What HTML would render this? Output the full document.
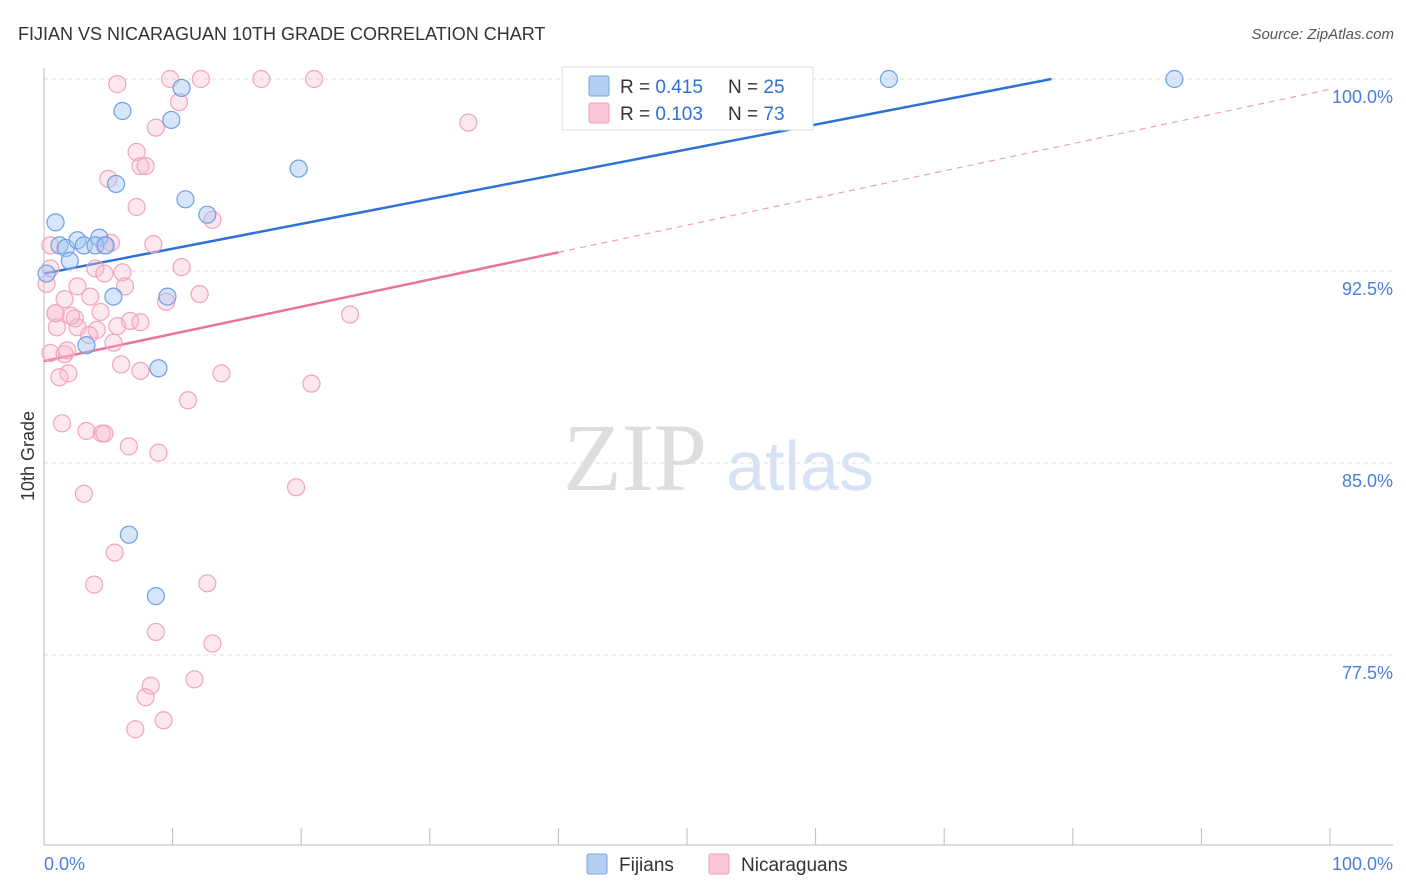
<!DOCTYPE html>
<html><head><meta charset="utf-8">
<style>
body{margin:0;background:#fff;font-family:"Liberation Sans",sans-serif;}
svg{display:block}
</style></head>
<body>
<svg id="chart" width="1406" height="892" viewBox="0 0 1406 892">
<text x="18" y="40" font-size="18" fill="#333">FIJIAN VS NICARAGUAN 10TH GRADE CORRELATION CHART</text>
<text x="1394" y="39" font-size="15" fill="#555" font-style="italic" text-anchor="end">Source: ZipAtlas.com</text>
<text x="34" y="456" font-size="18" fill="#333" text-anchor="middle" transform="rotate(-90 34 456)">10th Grade</text>
<g>
<text x="635" y="490" font-size="96" fill="#ddd" text-anchor="middle" font-family="Liberation Serif,serif">ZIP</text>
<text x="800" y="490" font-size="70" fill="#d7e3f4" text-anchor="middle">atlas</text>
</g>
<g id="grid"></g>
<g id="axes"></g>
<g id="trend"></g>
<g id="points"></g>
<g>
<rect x="562" y="67" width="251" height="63" fill="#fff" stroke="#ddd"/>
<rect x="589" y="76" width="20" height="20" fill="#b5cff3" stroke="#7aa6e2" rx="2"/>
<text x="620" y="93" font-size="19" fill="#333">R = <tspan fill="#2f6fd6">0.415</tspan></text>
<text x="728" y="93" font-size="19" fill="#333">N = <tspan fill="#2f6fd6">25</tspan></text>
<rect x="589" y="103" width="20" height="20" fill="#fac6d6" stroke="#ee9fba" rx="2"/>
<text x="620" y="120" font-size="19" fill="#333">R = <tspan fill="#2f6fd6">0.103</tspan></text>
<text x="728" y="120" font-size="19" fill="#333">N = <tspan fill="#2f6fd6">73</tspan></text>
</g>
<g>
<rect x="587" y="854" width="20" height="20" fill="#b5cff3" stroke="#7aa6e2" rx="2"/>
<text x="619" y="871" font-size="19" fill="#333">Fijians</text>
<rect x="709" y="854" width="20" height="20" fill="#fac6d6" stroke="#ee9fba" rx="2"/>
<text x="741" y="871" font-size="19" fill="#333">Nicaraguans</text>
</g>
</svg>
<script>
const yTicks=[100,92.5,85,77.5];
const yTickLabels=["100.0%","92.5%","85.0%","77.5%"];
const xTickLabels=["0.0%","100.0%"];
const fijiX=[65.7,87.9,10.7,6.1,9.9,19.8,5.6,11.0,12.7,0.9,1.2,1.7,2.6,3.1,4.3,4.0,4.8,0.2,2.0,5.4,9.6,3.3,8.9,6.6,8.7];
const fijiY=[100,100,99.65,98.75,98.4,96.5,95.9,95.3,94.7,94.4,93.5,93.4,93.7,93.5,93.8,93.5,93.5,92.4,92.9,91.5,91.5,89.6,88.7,82.2,79.8];
const nicX=[5.7,9.8,12.2,16.9,21.0,10.5,8.7,33.0,7.2,7.5,7.9,5.0,7.2,13.1,8.5,5.2,0.5,0.2,4.0,6.1,10.7,2.6,1.6,3.6,6.3,9.5,12.1,0.9,1.0,2.4,4.4,2.6,4.1,5.7,6.7,5.4,3.5,23.8,0.5,1.6,1.9,1.2,6.0,7.5,13.8,20.8,11.2,1.4,3.3,4.5,4.7,6.6,8.9,3.1,19.6,5.5,3.9,12.7,8.7,13.1,8.3,11.7,7.9,9.3,7.1,4.7,2.1,1.8,4.7,0.9,7.5,0.5];
const nicY=[99.8,100,100,100,100,99.1,98.1,98.3,97.15,96.6,96.6,96.1,95.0,94.5,93.55,93.6,93.5,92.0,92.6,92.45,92.65,91.9,91.4,91.5,91.9,91.3,91.6,90.85,90.3,90.65,90.9,90.3,90.2,90.35,90.55,89.7,90.0,90.8,89.3,89.25,88.5,88.35,88.85,88.6,88.5,88.1,87.45,86.55,86.25,86.15,86.15,85.65,85.4,83.8,84.05,81.5,80.25,80.3,78.4,77.95,76.3,76.55,75.85,74.95,74.6,92.4,90.75,89.4,93.5,90.85,90.5,92.6];
const fijiTrend=[92.4,102.1];
const nicTrend=[88.98,99.6];
const nicSolidEnd=40;

const NS="http://www.w3.org/2000/svg";
const X0=44,X1=1330,Y100=79,PXPER=25.6;
const sx=v=>X0+(X1-X0)*v/100;
const sy=v=>Y100+(100-v)*PXPER;
function mk(tag,attrs,parent){const e=document.createElementNS(NS,tag);for(const k in attrs)e.setAttribute(k,attrs[k]);parent.appendChild(e);return e;}
const grid=document.getElementById('grid'),axes=document.getElementById('axes'),trend=document.getElementById('trend'),pts=document.getElementById('points');
yTicks.forEach((t,i)=>{
 const l=mk('line',{x1:44,x2:1393,y1:sy(t),y2:sy(t),stroke:'#ddd','stroke-dasharray':'4,4'},grid);
 
 
 const tx=mk('text',{x:1393,y:sy(t)+24,'font-size':18,fill:'#4a7fd6','text-anchor':'end'},axes);
 tx.textContent=yTickLabels[i];
 
 
});
const xa=mk('line',{x1:44,x2:1393,y1:845,y2:845,stroke:'#bbb'},axes);


const ya=mk('line',{x1:44,x2:44,y1:68,y2:845,stroke:'#bbb'},axes);


for(let i=0;i<=10;i++){
 const t=mk('line',{x1:sx(i*10),x2:sx(i*10),y1:828,y2:845,stroke:'#bbb'},axes);
 
 
}
const xl0=mk('text',{x:44,y:870,'font-size':18,fill:'#4a7fd6'},axes);
xl0.textContent=xTickLabels[0];


const xl1=mk('text',{x:1393,y:870,'font-size':18,fill:'#4a7fd6','text-anchor':'end'},axes);
xl1.textContent=xTickLabels[1];



const pAt=x=>nicTrend[0]+(nicTrend[1]-nicTrend[0])*x/100;
const pd=mk('line',{x1:sx(nicSolidEnd),y1:sy(pAt(nicSolidEnd)),x2:sx(100),y2:sy(pAt(100)),stroke:'#ee9fba','stroke-width':1.2,'stroke-dasharray':'6,5'},trend);


const ps=mk('line',{x1:sx(0),y1:sy(pAt(0)),x2:sx(nicSolidEnd),y2:sy(pAt(nicSolidEnd)),stroke:'#e8749c','stroke-width':2.5},trend);


const bEnd=(100-fijiTrend[0])/(fijiTrend[1]-fijiTrend[0])*100;
const bl=mk('line',{x1:sx(0),y1:sy(fijiTrend[0]),x2:sx(Math.min(100,bEnd)),y2:sy(Math.min(100,fijiTrend[1])),stroke:'#2f72d6','stroke-width':2.5},trend);



nicX.forEach((x,i)=>{
 const c=mk('circle',{cx:sx(x),cy:sy(nicY[i]),r:8.5,fill:'rgba(248,185,205,0.35)',stroke:'#f0a3bf','stroke-width':1.2},pts);
 
 
});
fijiX.forEach((x,i)=>{
 const c=mk('circle',{cx:sx(x),cy:sy(fijiY[i]),r:8.5,fill:'rgba(165,198,242,0.45)',stroke:'#6e9fe0','stroke-width':1.2},pts);
 
 
});
</script>
</body></html>
